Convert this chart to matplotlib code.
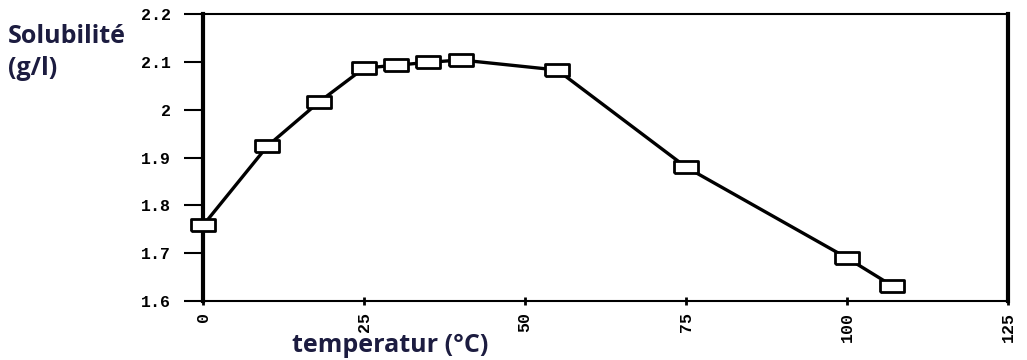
import matplotlib.pyplot as plt
from matplotlib.ticker import FixedLocator, FixedFormatter

# solubility vs temperature
temperature = [0, 10, 18, 25, 30, 35, 40, 55, 75, 100, 107]
solubility = [1.758, 1.924, 2.016, 2.087, 2.093, 2.099, 2.104, 2.083, 1.880, 1.690, 1.632]

x_ticks = [0, 25, 50, 75, 100, 125]
x_labels = ["0", "25", "50", "75", "100", "125"]
y_ticks = [1.6, 1.7, 1.8, 1.9, 2.0, 2.1, 2.2]
y_labels = ["1.6", "1.7", "1.8", "1.9", "2", "2.1", "2.2"]

# flat open rectangle marker
box = [(-1.0, -0.5), (1.0, -0.5), (1.0, 0.5), (-1.0, 0.5), (-1.0, -0.5)]

fig = plt.figure(figsize=(10.27, 3.6), dpi=100)
ax = fig.add_axes([0.1977, 0.1639, 0.7838, 0.7971])

ax.plot(temperature, solubility, color="black", lw=2.4,
        marker=box, markersize=17, markerfacecolor="white",
        markeredgecolor="black", markeredgewidth=2.0, clip_on=False, zorder=3)

ax.set_xlim(0, 125)
ax.set_ylim(1.6, 2.2)

ax.xaxis.set_major_locator(FixedLocator(x_ticks))
ax.xaxis.set_major_formatter(FixedFormatter(x_labels))
ax.yaxis.set_major_locator(FixedLocator(y_ticks))
ax.yaxis.set_major_formatter(FixedFormatter(y_labels))

tick_font = dict(family="Liberation Mono", weight="bold", size=12)
for lab in ax.get_yticklabels():
    lab.set_fontproperties(tick_font)
for lab in ax.get_xticklabels():
    lab.set_fontproperties(tick_font)
    lab.set_rotation(90)

ax.tick_params(axis="y", direction="out", length=14, width=1.5, pad=9)
ax.tick_params(axis="x", direction="inout", length=6, width=2.0, pad=5)

ax.spines["left"].set_linewidth(3.0)
ax.spines["right"].set_linewidth(3.0)
ax.spines["bottom"].set_linewidth(1.5)
ax.spines["top"].set_linewidth(1.5)

fig.text(0.008, 0.855, "Solubilité\n(g/l)", ha="left", va="center",
         fontsize=18, fontweight="bold", family="Open Sans",
         color="#1c1c40", linespacing=1.35)
fig.text(0.284, 0.04, "temperatur (°C)", ha="left", va="center",
         fontsize=18, fontweight="bold", family="Open Sans", color="#1c1c40")

fig.savefig("out.png", dpi=100)
